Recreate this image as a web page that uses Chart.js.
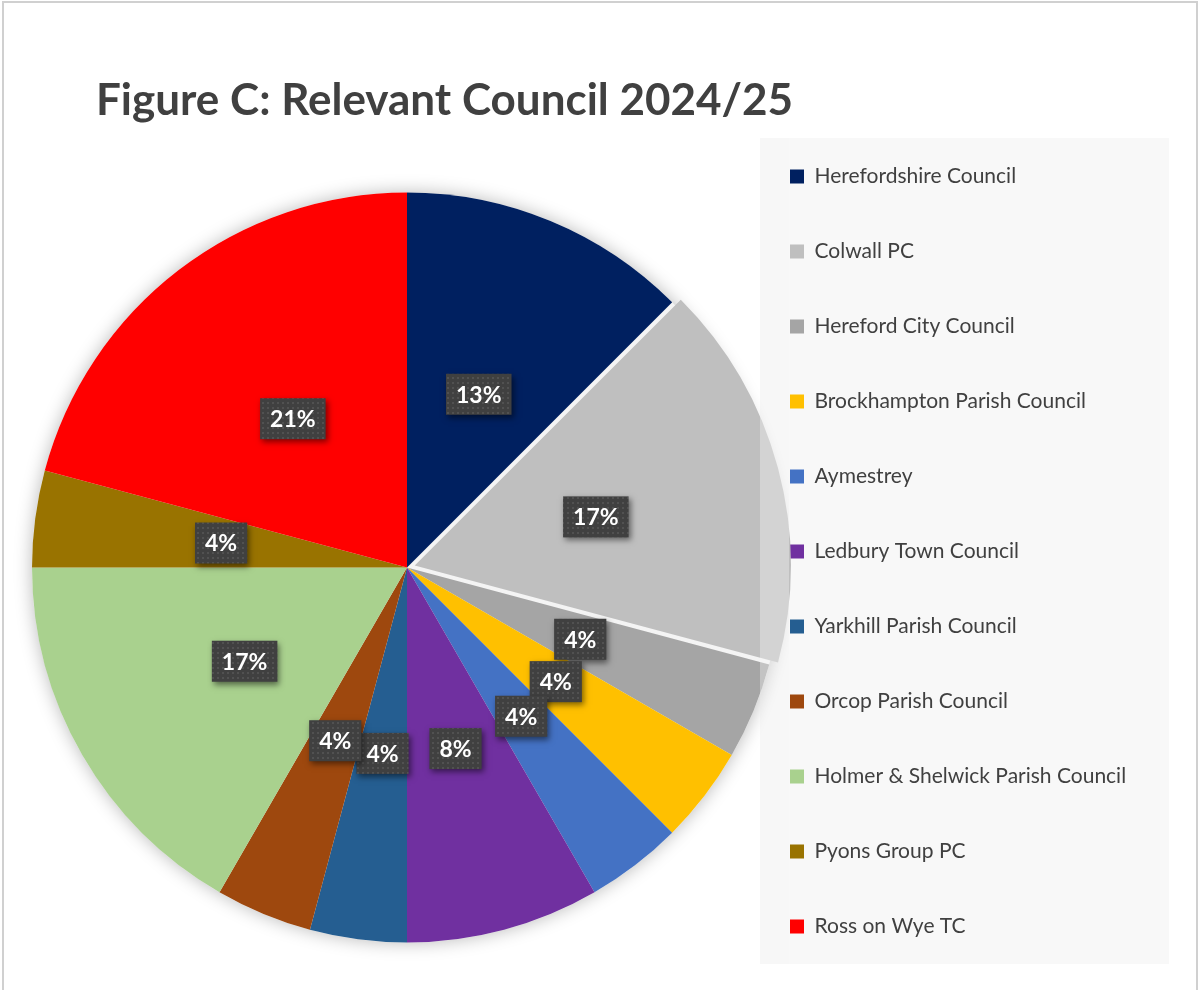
<!DOCTYPE html>
<html lang="en">
<head>
<meta charset="UTF-8">
<title>Figure C: Relevant Council 2024/25</title>
<script src="https://cdn.jsdelivr.net/npm/chart.js"></script>
<style>
    * { margin: 0; padding: 0; box-sizing: border-box; }
    body { width: 1200px; height: 990px; overflow: hidden; background: #fff; font-family: Lato, sans-serif; }
    #frame { position: absolute; left: 2px; top: 1px; width: 1196px; height: 1100px; border: 2px solid #d0d0d0; }
    #wrap { position: absolute; left: 0; top: 0; width: 1200px; height: 1033px; }
    #title { position: absolute; left: 96px; top: 77px; font-size: 44px; line-height: 42px; font-weight: bold; color: #404040; white-space: nowrap; }
</style>
</head>
<body>
<div id="frame"></div>
<div id="wrap"><canvas id="pie"></canvas></div>
<div id="title">Figure C: Relevant Council 2024/25</div>

<script>
    const councils = [
        'Herefordshire Council', 'Colwall PC', 'Hereford City Council', 'Brockhampton Parish Council',
        'Aymestrey', 'Ledbury Town Council', 'Yarkhill Parish Council', 'Orcop Parish Council',
        'Holmer & Shelwick Parish Council', 'Pyons Group PC', 'Ross on Wye TC'
    ];
    // responses per council (24 in total -> 13%, 17%, 4% ... as labelled)
    const responses = [3, 4, 1, 1, 1, 2, 1, 1, 4, 1, 5];
    const sliceColours = [
        '#002060', '#bfbfbf', '#a5a5a5', '#ffc000', '#4472c4', '#7030a0',
        '#255e91', '#9e480e', '#a9d18e', '#997300', '#ff0000'
    ];

    const FONT = 'Lato';
    const LEGEND_SIZE = 21, LEGEND_PAD = 54, BOX = 14;
    const panel = { x: 760, y: 138, w: 409, h: 826 };

    // work out legend width so the pie centre lands where it should
    const mctx = document.createElement('canvas').getContext('2d');
    mctx.font = LEGEND_SIZE + 'px ' + FONT;
    const longest = Math.max(...councils.map(c => mctx.measureText(c).width));
    const legendW = LEGEND_PAD + BOX + LEGEND_SIZE / 2 + longest + 10;
    const legendLeft = 790 - LEGEND_PAD;
    const padRight = 1200 - legendLeft - legendW;
    const padLeft = 2 * 407 - legendLeft;

    // dotted texture for label boxes
    const tile = document.createElement('canvas');
    tile.width = 5; tile.height = 5;
    const tctx = tile.getContext('2d');
    tctx.fillStyle = 'rgba(255,255,255,0.09)';
    tctx.fillRect(2, 2, 2, 2);
    const dots = mctx.createPattern(tile, 'repeat');

    const panelPlugin = {
        id: 'panel',
        beforeDraw(chart) {
            const ctx = chart.ctx;
            ctx.save();
            ctx.fillStyle = '#f8f8f8';
            ctx.fillRect(panel.x, panel.y, panel.w, panel.h);
            ctx.restore();
        },
        beforeDatasetsDraw(chart) {
            const ctx = chart.ctx;
            const arc = chart.getDatasetMeta(0).data[0];
            ctx.save();
            ctx.beginPath();
            ctx.rect(0, 0, 789, chart.height);
            ctx.clip();
            ctx.shadowColor = 'rgba(0,0,0,0.28)';
            ctx.shadowBlur = 18;
            ctx.fillStyle = '#f4f4f4';
            ctx.beginPath();
            ctx.arc(arc.x, arc.y, arc.outerRadius, 0, Math.PI * 2);
            ctx.fill();
            ctx.restore();
        },
        afterDatasetsDraw(chart) {
            const ctx = chart.ctx;
            ctx.save();
            ctx.fillStyle = 'rgba(248,248,248,0.37)';
            ctx.fillRect(panel.x, panel.y, 29, panel.h);
            ctx.restore();
        }
    };

    const labelPlugin = {
        id: 'pctLabels',
        afterDatasetsDraw(chart) {
            const ctx = chart.ctx;
            const meta = chart.getDatasetMeta(0);
            const total = responses.reduce((a, b) => a + b, 0);
            ctx.save();
            ctx.font = 'bold 23px ' + FONT;
            ctx.textAlign = 'center';
            ctx.textBaseline = 'middle';
            meta.data.forEach((arc, i) => {
                const mid = (arc.startAngle + arc.endAngle) / 2;
                const r = arc.outerRadius / 2 + (arc.options.offset || 0) / 4;
                const x = arc.x + Math.cos(mid) * r;
                const y = arc.y + Math.sin(mid) * r;
                const text = Math.round(responses[i] / total * 100) + '%';
                const w = ctx.measureText(text).width + 20, h = 41;
                ctx.save();
                ctx.shadowColor = 'rgba(0,0,0,0.5)';
                ctx.shadowBlur = 6;
                ctx.shadowOffsetX = 2;
                ctx.shadowOffsetY = 3;
                ctx.fillStyle = '#404040';
                ctx.fillRect(x - w / 2, y - h / 2, w, h);
                ctx.restore();
                ctx.fillStyle = dots;
                ctx.fillRect(x - w / 2, y - h / 2, w, h);
                ctx.fillStyle = '#ffffff';
                ctx.fillText(text, x, y + 1);
            });
            ctx.restore();
        }
    };

    new Chart(document.getElementById('pie'), {
        type: 'pie',
        data: {
            labels: councils,
            datasets: [{
                data: responses,
                backgroundColor: sliceColours,
                borderWidth: 0,
                offset: councils.map((c, i) => i === 1 ? 32 : 0),
                clip: false
            }]
        },
        options: {
            responsive: true,
            maintainAspectRatio: false,
            animation: false,
            events: [],
            radius: 375,
            layout: { padding: { left: padLeft, top: 112, right: padRight, bottom: 10 } },
            plugins: {
                tooltip: { enabled: false },
                legend: {
                    position: 'right',
                    align: 'start',
                    labels: {
                        font: { family: FONT, size: LEGEND_SIZE },
                        color: '#404040',
                        boxWidth: BOX,
                        boxHeight: BOX,
                        padding: LEGEND_PAD
                    }
                }
            }
        },
        plugins: [panelPlugin, labelPlugin]
    });
</script>
</body>
</html>
